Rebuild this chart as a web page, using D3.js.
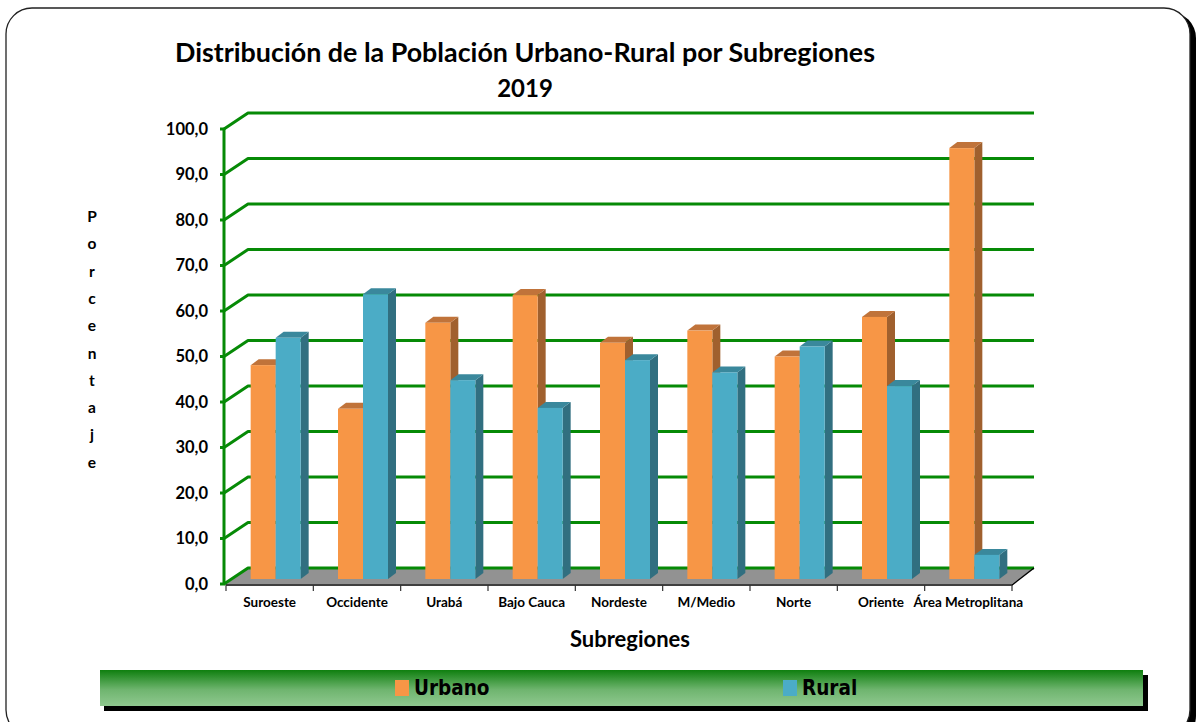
<!DOCTYPE html>
<html>
<head>
<meta charset="utf-8">
<script src="https://cdn.jsdelivr.net/npm/d3@7"></script>
<style>
  body { margin: 0; background: #fff; }
  svg { display: block; }
  text { font-family: Lato, "Open Sans", sans-serif; font-weight: bold; fill: #000; }
</style>
</head>
<body>
<div id="vis"></div>
<script>
// data
var subregiones = ["Suroeste", "Occidente", "Urabá", "Bajo Cauca", "Nordeste", "M/Medio", "Norte", "Oriente", "Área Metroplitana"];
var urbano = [47.0, 37.4, 56.3, 62.4, 51.9, 54.6, 48.9, 57.6, 94.7];
var rural  = [53.0, 62.6, 43.7, 37.6, 48.1, 45.4, 51.1, 42.4, 5.3];
var yTicks = [0, 10, 20, 30, 40, 50, 60, 70, 80, 90, 100];
var yTitle = "Porcentaje";

var W = 1200, H = 722;
var svg = d3.select("#vis").append("svg").attr("width", W).attr("height", H);

// frame with shadow
svg.append("rect").attr("x", 10).attr("y", 12).attr("width", 1186).attr("height", 730)
  .attr("rx", 26).attr("fill", "#000");
svg.append("rect").attr("x", 6).attr("y", 8).attr("width", 1184).attr("height", 728)
  .attr("rx", 26).attr("fill", "#fff").attr("stroke", "#222").attr("stroke-width", 1.3);

// 3d geometry
var depth = {dx: 22, dy: -16};      // floor / wall depth
var barOff = {dx: 7, dy: -5};       // where bars sit in depth
var barDepth = {dx: 8, dy: -6};     // thickness of each bar
var barW = 25;

var x = d3.scaleBand().domain(subregiones).range([226, 1012]);
var y = d3.scaleLinear().domain([0, 100]).range([584, 129]);

var green = "#068a06";

// floor
var y0 = y(0);
svg.append("polygon")
  .attr("points", [[x.range()[0], y0], [x.range()[1], y0],
                   [x.range()[1] + depth.dx, y0 + depth.dy], [x.range()[0] + depth.dx, y0 + depth.dy]].join(" "))
  .attr("fill", "#929292");

// grid: diagonal from front axis + back wall line
var grid = svg.selectAll("g.rule").data(yTicks).enter().append("g").attr("class", "rule");
grid.append("path")
  .attr("d", function(d) {
    var yy = y(d);
    return "M" + (x.range()[0] - 2) + "," + yy + "L" + (x.range()[0] + depth.dx) + "," + (yy + depth.dy) +
           "L" + (x.range()[1] + depth.dx) + "," + (yy + depth.dy);
  })
  .attr("fill", "none").attr("stroke", green).attr("stroke-width", 3).attr("stroke-linejoin", "round");
grid.append("line")
  .attr("x1", x.range()[0] - 6).attr("x2", x.range()[0] - 1)
  .attr("y1", function(d) { return y(d); }).attr("y2", function(d) { return y(d); })
  .attr("stroke", green).attr("stroke-width", 3);
grid.append("text")
  .attr("x", 208).attr("y", function(d) { return y(d); }).attr("dy", "0.35em")
  .attr("text-anchor", "end").style("font-size", "16.5px")
  .text(function(d) { return d3.format(".1f")(d).replace(".", ","); });

// front vertical axis
svg.append("line").attr("x1", x.range()[0] - 2).attr("x2", x.range()[0] - 2)
  .attr("y1", y(0) + 1).attr("y2", y(100))
  .attr("stroke", green).attr("stroke-width", 3);

// floor outline, front edge & right edge
svg.append("path")
  .attr("d", "M" + x.range()[0] + "," + (y0 + 1) + "L" + x.range()[1] + "," + (y0 + 1) +
             "L" + (x.range()[1] + depth.dx) + "," + (y0 + depth.dy))
  .attr("fill", "none").attr("stroke", "#000").attr("stroke-width", 1.5);

// category ticks
var catTicks = subregiones.map(function(d) { return x(d); }).concat([x.range()[1]]);
svg.selectAll("line.ctick").data(catTicks).enter().append("line")
  .attr("class", "ctick")
  .attr("x1", function(d) { return d; }).attr("x2", function(d) { return d; })
  .attr("y1", y0 + 1).attr("y2", y0 + 7)
  .attr("stroke", "#333").attr("stroke-width", 1.2);

// bars
var series = [
  {name: "Urbano", values: urbano, front: "#f79646", top: "#c0733a", side: "#a0602e"},
  {name: "Rural",  values: rural,  front: "#4bacc6", top: "#3a889c", side: "#316f80"}
];

var bars = svg.append("g").attr("class", "bars");
subregiones.forEach(function(cat, i) {
  var cx = x(cat) + x.bandwidth() / 2 + barOff.dx - 1;
  series.forEach(function(s, k) {
    var x0 = cx - barW + k * barW, x1 = x0 + barW;
    var yb = y(0) + barOff.dy, yt = y(s.values[i]) + barOff.dy;
    var g = bars.append("g");
    g.append("polygon")
      .attr("points", [[x1, yt], [x1 + barDepth.dx, yt + barDepth.dy],
                       [x1 + barDepth.dx, yb + barDepth.dy], [x1, yb]].join(" "))
      .attr("fill", s.side);
    g.append("polygon")
      .attr("points", [[x0, yt], [x1, yt], [x1 + barDepth.dx, yt + barDepth.dy],
                       [x0 + barDepth.dx, yt + barDepth.dy]].join(" "))
      .attr("fill", s.top);
    g.append("rect").attr("x", x0).attr("y", yt)
      .attr("width", barW).attr("height", yb - yt).attr("fill", s.front);
  });
});

// category labels
svg.selectAll("text.cat").data(subregiones).enter().append("text")
  .attr("class", "cat")
  .attr("x", function(d) { return x(d) + x.bandwidth() / 2; })
  .attr("y", 607).attr("text-anchor", "middle").style("font-size", "13.5px")
  .text(function(d) { return d; });

// titles
svg.append("text").attr("x", 525).attr("y", 62).attr("text-anchor", "middle")
  .attr("textLength", 700).attr("lengthAdjust", "spacingAndGlyphs")
  .style("font-size", "26px").text("Distribución de la Población Urbano-Rural por Subregiones");
svg.append("text").attr("x", 525).attr("y", 97).attr("text-anchor", "middle")
  .style("font-size", "24px").text("2019");
svg.append("text").attr("x", 630).attr("y", 647).attr("text-anchor", "middle")
  .style("font-size", "22px").text("Subregiones");

// vertical stacked y title
svg.selectAll("text.ytitle").data(yTitle.split("")).enter().append("text")
  .attr("class", "ytitle")
  .attr("x", 92).attr("y", function(d, i) { return 222 + i * 27.3; })
  .attr("text-anchor", "middle").style("font-size", "15.5px")
  .text(function(d) { return d; });

// legend
var defs = svg.append("defs");
var grad = defs.append("linearGradient").attr("id", "leg").attr("x1", 0).attr("y1", 0).attr("x2", 0).attr("y2", 1);
grad.append("stop").attr("offset", "0%").attr("stop-color", "#0f7f0f");
grad.append("stop").attr("offset", "55%").attr("stop-color", "#6fb56f");
grad.append("stop").attr("offset", "100%").attr("stop-color", "#8fc88f");

svg.append("rect").attr("x", 104).attr("y", 675).attr("width", 1044).attr("height", 36).attr("fill", "#000");
svg.append("rect").attr("x", 100).attr("y", 670).attr("width", 1043).attr("height", 36).attr("fill", "url(#leg)");

var legX = [395, 783];
var leg = svg.selectAll("g.leg").data(series).enter().append("g").attr("class", "leg")
  .attr("transform", function(d, i) { return "translate(" + legX[i] + ",680)"; });
leg.append("rect").attr("width", 14).attr("height", 16).attr("fill", function(d) { return d.front; });
leg.append("text").attr("x", 19).attr("y", 15)
  .style("font-family", "'DejaVu Sans Condensed', 'DejaVu Sans', sans-serif").style("font-size", "20.5px")
  .text(function(d) { return d.name; });
</script>
</body>
</html>
